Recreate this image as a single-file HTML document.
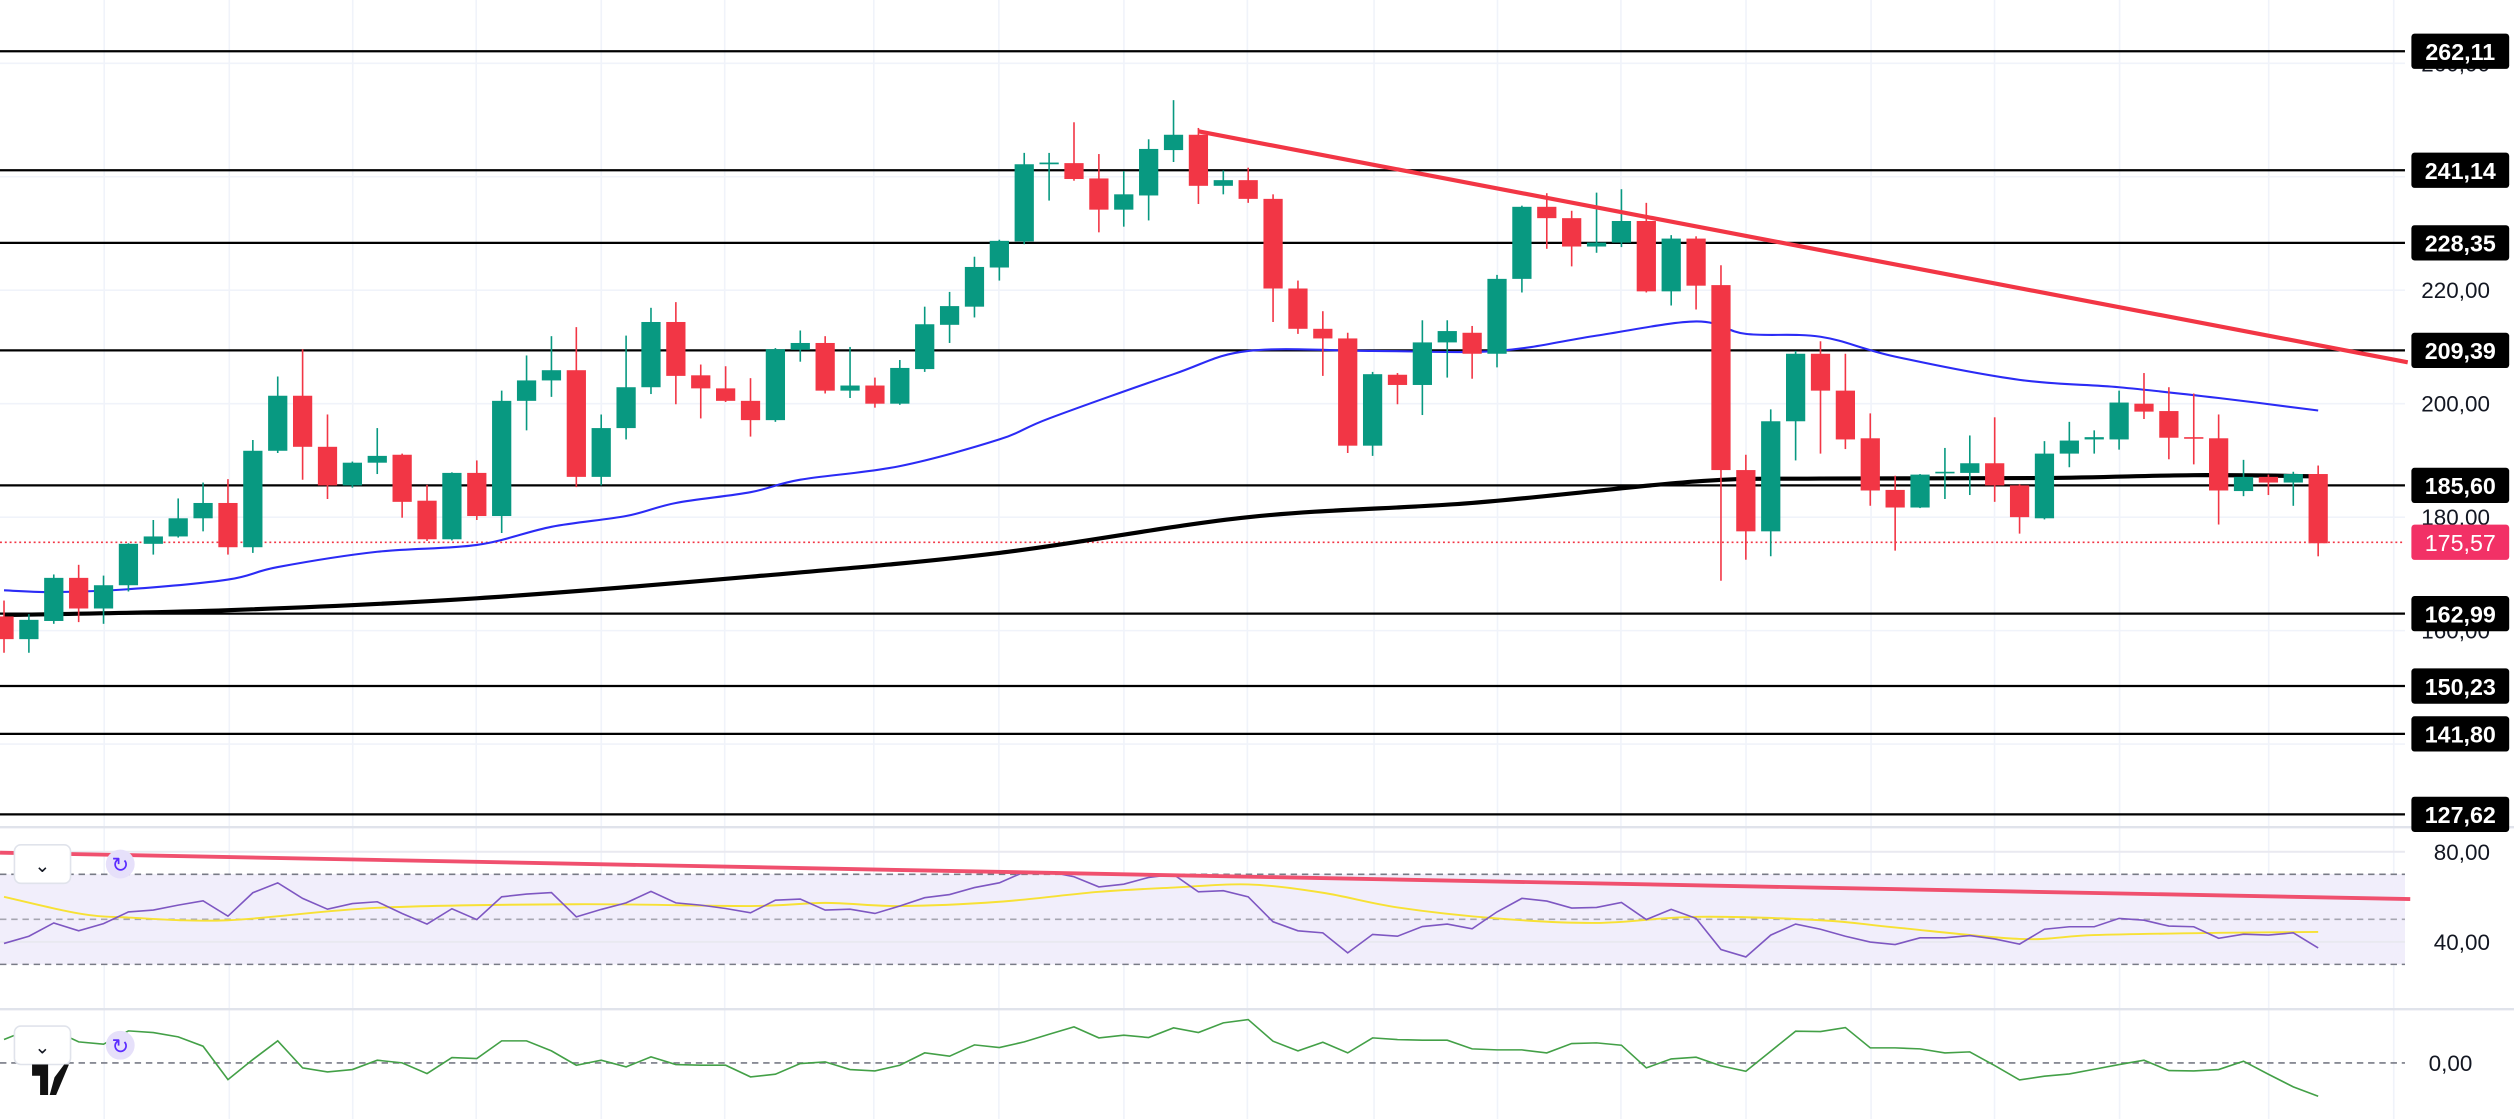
<!DOCTYPE html>
<html><head><meta charset="utf-8">
<style>
html,body{margin:0;padding:0;background:#fff;}
svg{display:block;}
text{font-family:"Liberation Sans",sans-serif;}
</style></head>
<body>
<svg id="chart" width="2514" height="1119" viewBox="0 0 1568 698" preserveAspectRatio="none" xmlns="http://www.w3.org/2000/svg">
<g id="grid"></g>
<g id="levels"></g>
<g id="mas"></g>
<g id="candles"></g>
<g id="trend"></g>
<g id="rsi"></g>
<g id="osc"></g>
<g id="axis"></g>
<g id="ui">
  <rect x="9" y="527" width="35" height="24" rx="4" fill="#fff" stroke="#e0e3eb"/>
  <text x="26.5" y="544" font-size="12" text-anchor="middle" fill="#131722">⌄</text>
  <circle cx="75" cy="539" r="9" fill="#e6e0fa"/>
  <text x="75" y="544" font-size="13" text-anchor="middle" fill="#5b2cff">↻</text>
  <rect x="9" y="640" width="35" height="24" rx="4" fill="#fff" stroke="#e0e3eb"/>
  <text x="26.5" y="657" font-size="12" text-anchor="middle" fill="#131722">⌄</text>
  <circle cx="75" cy="652" r="9" fill="#e6e0fa"/>
  <text x="75" y="657" font-size="13" text-anchor="middle" fill="#5b2cff">↻</text>
  <path d="M20 664 h10 v19 h-5 v-12 h-5z M34 672 l6 -8 h3 l-8 19 h-4z" fill="#111"/>
</g>
</svg>
<script>
// ---------- DATA ----------
const opens  = [162.5,158.5,161.7,169.3,163.9,168.0,175.3,176.6,179.8,182.5,174.7,191.7,201.4,192.4,185.6,189.6,191.0,182.9,176.1,187.8,180.2,200.5,204.1,205.9,187.1,195.7,202.9,214.4,205.0,202.7,200.5,197.1,209.5,210.7,202.3,203.2,200.0,206.1,213.9,217.1,224.0,228.6,242.2,242.4,239.7,234.2,236.7,244.7,247.4,238.4,239.4,236.1,220.3,213.2,211.5,192.6,205.1,203.3,210.8,212.5,208.8,222.0,234.7,232.7,227.7,228.4,232.2,219.8,229.1,220.9,188.3,177.5,196.9,208.8,202.3,193.9,184.8,181.7,187.8,187.8,189.5,185.6,179.8,191.2,193.7,193.7,200.0,198.7,194.1,193.9,184.6,187.1,186.1,187.6];
const highs  = [165.3,162.9,169.9,171.6,169.7,175.4,179.5,183.3,186.1,186.7,193.6,204.8,209.6,198.1,189.8,195.7,191.2,185.7,187.9,190.0,202.3,208.5,211.9,213.5,198.1,212.0,216.9,217.9,206.9,206.6,204.5,209.8,212.9,211.9,210.0,204.6,207.7,217.1,219.7,225.9,228.9,244.2,244.2,249.6,244.0,241.0,246.6,253.5,248.6,241.1,241.6,236.9,221.7,216.3,212.5,205.6,205.4,214.7,214.7,213.7,222.7,234.9,237.1,234.0,237.2,237.8,235.4,229.7,229.5,224.4,191.0,199.0,209.3,211.0,208.8,198.3,187.3,187.6,192.2,194.4,197.6,185.8,193.4,196.8,195.3,202.3,205.4,202.9,201.8,198.1,190.1,187.5,188.0,189.1];
const lows   = [156.1,156.1,161.2,161.5,161.2,166.9,173.4,176.4,177.5,173.4,173.7,191.3,186.6,183.2,185.2,187.6,179.9,175.8,175.9,179.5,177.2,195.3,201.2,185.3,185.6,193.7,201.7,199.9,197.4,200.3,194.2,196.8,207.4,201.8,201.0,199.3,199.8,205.6,210.7,215.2,221.7,228.1,235.8,239.3,230.2,231.2,232.3,242.6,235.2,236.9,235.4,214.4,212.3,204.9,191.3,190.8,199.9,198.0,204.6,204.4,206.4,219.6,227.3,224.2,226.6,227.6,219.6,217.3,216.6,168.8,172.5,173.1,190.0,191.2,192.0,182.0,174.1,181.6,183.2,183.9,182.7,177.1,179.6,188.8,191.2,191.9,197.3,190.2,189.3,178.7,183.7,183.9,182.0,173.1];
const closes = [158.5,161.9,169.3,163.9,168.0,175.3,176.6,179.8,182.5,174.7,191.7,201.4,192.4,185.6,189.6,190.8,182.7,176.1,187.8,180.2,200.5,204.1,205.9,187.1,195.7,202.9,214.4,204.9,202.7,200.5,197.1,209.6,210.7,202.3,203.2,200.0,206.3,214.0,217.2,224.1,228.7,242.2,242.5,239.6,234.2,236.9,244.9,247.4,238.4,239.4,236.1,220.3,213.2,211.5,192.6,205.2,203.3,210.8,212.8,208.8,222.0,234.7,232.7,227.7,228.4,232.2,219.8,229.1,220.8,188.3,177.5,196.9,208.8,202.3,193.7,184.7,181.7,187.5,188.0,189.5,185.6,180.0,191.2,193.5,194.1,200.2,198.6,194.0,193.9,184.7,187.1,186.1,187.6,175.4];

const ma50Idx = [0,2,5,9,11,15,19,22,25,27,30,32,36,40,42,47,50,55,60,64,68,70,73,76,81,85,89,93];
const ma50Val = [167.1,166.8,167.3,169.0,171.2,173.9,175.1,178.3,180.2,182.5,184.4,186.6,189.0,193.7,197.4,205.2,209.3,209.3,209.3,212.0,214.5,212.3,211.8,208.3,204.2,202.9,201.0,198.8];
const ma200Idx = [0,9,19,30,40,50,59,68,73,82,88,93];
const ma200Val = [162.75,163.6,165.7,169.5,173.7,180.0,182.5,186.3,186.8,186.9,187.4,187.2];

const levelValues = [262.11,241.14,228.35,209.39,185.60,162.99,150.23,141.80,127.62];
const levelLabels = ["262,11","241,14","228,35","209,39","185,60","162,99","150,23","141,80","127,62"];
const gridPrices = [260,240,220,200,180,160,140];
const axisPrices = [260,220,200,180,160];
const axisLabels = ["260,00","220,00","200,00","180,00","160,00"];
const lastPrice = 175.57;
const lastLabel = "175,57";
const trendIdx = [48, 96.6];
const trendVal = [248.0, 207.3];

const rsiVal = [39.3,42.5,48.4,44.9,48.1,53.3,54.1,56.3,58.2,51.4,61.8,66.2,59.3,54.5,57.0,57.8,52.6,47.9,54.7,49.9,60.0,61.2,61.9,51.1,54.4,57.3,62.4,57.3,56.3,54.8,52.9,58.5,59.0,54.1,54.5,52.6,55.9,59.6,61.0,64.1,66.2,71.0,71.1,68.9,64.4,65.6,68.6,69.9,62.2,62.7,60.0,48.9,44.9,44.0,35.1,43.3,42.5,46.8,47.9,45.8,53.3,59.3,58.1,55.0,55.3,57.5,49.9,54.4,50.4,36.6,33.3,43.0,47.9,45.6,42.5,39.9,38.8,41.8,41.8,42.8,41.3,39.0,45.6,46.7,46.7,50.4,49.6,47.0,46.7,41.6,43.4,43.0,44.0,37.3];
const rsiMaIdx = [0,3,5,9,15,23,30,33,36,40,44,47,50,53,56,60,64,68,73,76,81,84,89,93];
const rsiMaVal = [60.0,52.6,50.8,49.6,55.1,56.7,55.9,57.3,55.9,57.8,62.2,64.1,65.5,61.8,55.3,50.4,48.4,51.1,49.6,46.4,41.3,43.0,44.0,44.4];
const rsiTrendIdx = [-0.16, 96.7];
const rsiTrendVal = [79.6, 59.0];
const rsiTicks = [80,40];
const rsiTickLabels = ["80,00","40,00"];
const rsiBands = [70,50,30];

const oscVal = [7.0,10.0,9.8,6.3,5.6,9.6,9.1,7.8,5.0,-5.0,1.0,6.6,-1.5,-2.7,-2.0,0.8,0.0,-3.2,1.6,1.3,6.6,6.6,3.6,-0.7,0.8,-1.2,1.8,-0.5,-0.7,-0.7,-4.2,-3.4,-0.2,0.3,-2.0,-2.4,-0.7,3.0,2.0,5.4,4.6,6.3,8.6,10.8,7.5,8.3,7.6,10.5,9.1,12.0,13.0,6.5,3.6,6.2,3.0,7.5,7.0,6.8,6.8,4.2,3.9,3.9,3.0,5.8,6.0,5.3,-1.5,1.2,1.7,-0.9,-2.5,3.5,9.5,9.4,10.6,4.5,4.5,4.2,3.0,3.3,-0.8,-5.1,-4.0,-3.3,-1.9,-0.5,0.8,-2.3,-2.4,-2.0,0.5,-3.4,-7.2,-10.0];
const oscZeroLabel = "0,00";
const vGridX = [65,143,220,297,375,452,545,623,701,778,857,934,1011,1089,1167,1244,1322,1415,1493];

// ---------- SCALES ----------
const PLOT_R = 1500;
const X = i => 2.5 + i * 15.52;
const Y = p => 32 + (262.11 - p) * 3.539;
const RY = v => 587.5 - (v - 40) * 1.405;
const OY = v => 663 - v * 2.08;
const NS = "http://www.w3.org/2000/svg";
function mk(parent, tag, attrs) {
  const e = document.createElementNS(NS, tag);
  for (const k in attrs) e.setAttribute(k, attrs[k]);
  document.getElementById(parent).appendChild(e);
  return e;
}
function smoothPath(pts) {
  let d = "M" + pts[0][0] + " " + pts[0][1];
  for (let i = 0; i < pts.length - 1; i++) {
    const p0 = pts[i - 1] || pts[i], p1 = pts[i], p2 = pts[i + 1], p3 = pts[i + 2] || p2;
    const c1x = p1[0] + (p2[0] - p0[0]) / 6, c1y = p1[1] + (p2[1] - p0[1]) / 6;
    const c2x = p2[0] - (p3[0] - p1[0]) / 6, c2y = p2[1] - (p3[1] - p1[1]) / 6;
    d += " C" + c1x + " " + c1y + " " + c2x + " " + c2y + " " + p2[0] + " " + p2[1];
  }
  return d;
}

// grid
gridPrices.forEach(p => {
  const l = mk("grid", "line", {x1: 0, x2: PLOT_R, y1: Y(p), y2: Y(p), stroke: "#f0f3fa", "stroke-width": 1});
  
  
});
vGridX.forEach(x => {
  const l = mk("grid", "line", {x1: x, x2: x, y1: 0, y2: 698, stroke: "#f0f3fa", "stroke-width": 1});
  
  
});
[516, 629.5].forEach(y => {
  const l = mk("grid", "line", {x1: 0, x2: 1568, y1: y, y2: y, stroke: "#e0e3eb", "stroke-width": 1.5});
  
  
});

// levels
levelValues.forEach(v => {
  const l = mk("levels", "line", {x1: 0, x2: PLOT_R, y1: Y(v), y2: Y(v), stroke: "#000", "stroke-width": 1.4});
  
  
});
const lp = mk("levels", "line", {x1: 0, x2: PLOT_R, y1: Y(lastPrice), y2: Y(lastPrice), stroke: "#f23645", "stroke-width": 1, "stroke-dasharray": "1.2 1.8"});



// MAs
const m50 = mk("mas", "path", {d: smoothPath(ma50Idx.map((i, k) => [X(i), Y(ma50Val[k])])), fill: "none", stroke: "#2b2bf5", "stroke-width": 1.3});


const m200 = mk("mas", "path", {d: smoothPath(ma200Idx.map((i, k) => [X(i), Y(ma200Val[k])])), fill: "none", stroke: "#000", "stroke-width": 2.6});



// candles
closes.forEach((c, i) => {
  const o = opens[i], up = c >= o, col = up ? "#089981" : "#f23645", x = X(i);
  const w = mk("candles", "line", {x1: x, x2: x, y1: Y(highs[i]), y2: Y(lows[i]), stroke: col, "stroke-width": 1});
  
  
  const top = Y(Math.max(o, c)), h = Math.max(1, Math.abs(Y(o) - Y(c)));
  const b = mk("candles", "rect", {x: x - 6, y: top, width: 12, height: h, fill: col});
  
  
});

// trendline
const tl = mk("trend", "line", {x1: X(trendIdx[0]), y1: Y(trendVal[0]), x2: X(trendIdx[1]), y2: Y(trendVal[1]), stroke: "#f23645", "stroke-width": 2.6});



// RSI pane
const band = mk("rsi", "rect", {x: 0, y: RY(70), width: PLOT_R, height: RY(30) - RY(70), fill: "#f1eefb"});


rsiTicks.forEach(v => {
  const l = mk("rsi", "line", {x1: 0, x2: PLOT_R, y1: RY(v), y2: RY(v), stroke: "#e9e9f0", "stroke-width": 1.2});
  
  
});
rsiBands.forEach(v => {
  const l = mk("rsi", "line", {x1: 0, x2: PLOT_R, y1: RY(v), y2: RY(v), stroke: v === 50 ? "#a6a6b0" : "#787b86", "stroke-width": 1, "stroke-dasharray": "4 3"});
  
  
});
const rma = mk("rsi", "path", {d: smoothPath(rsiMaIdx.map((i, k) => [X(i), RY(rsiMaVal[k])])), fill: "none", stroke: "#f7e135", "stroke-width": 1.2});


const rl = mk("rsi", "polyline", {points: rsiVal.map((v, i) => X(i) + "," + RY(v)).join(" "), fill: "none", stroke: "#7e57c2", "stroke-width": 1});


const rt = mk("rsi", "line", {x1: X(rsiTrendIdx[0]), y1: RY(rsiTrendVal[0]), x2: X(rsiTrendIdx[1]), y2: RY(rsiTrendVal[1]), stroke: "#f0506e", "stroke-width": 2.4});



// oscillator pane
const oz = mk("osc", "line", {x1: 0, x2: PLOT_R, y1: OY(0), y2: OY(0), stroke: "#787b86", "stroke-width": 1, "stroke-dasharray": "4 3"});


const ol = mk("osc", "polyline", {points: oscVal.map((v, i) => X(i) + "," + OY(v)).join(" "), fill: "none", stroke: "#43a047", "stroke-width": 1});



// axis labels
axisPrices.forEach((p, k) => {
  const t = mk("axis", "text", {x: 1553, y: Y(p) + 5, "font-size": 14, "text-anchor": "end", fill: "#131722"});
  t.textContent = axisLabels[k];
  
  
});
levelValues.forEach((v, k) => {
  const r = mk("axis", "rect", {x: 1504, y: Y(v) - 11, width: 61, height: 22, rx: 2, fill: "#000"});
  
  
  const t = mk("axis", "text", {x: 1534.5, y: Y(v) + 5.5, "font-size": 14.5, "font-weight": "bold", "text-anchor": "middle", fill: "#fff"});
  t.textContent = levelLabels[k];
  
  
});
const lr = mk("axis", "rect", {x: 1504, y: Y(lastPrice) - 11, width: 61, height: 22, rx: 2, fill: "#f23166"});


const lt = mk("axis", "text", {x: 1534.5, y: Y(lastPrice) + 5.5, "font-size": 14.5, "text-anchor": "middle", fill: "#fff"});
lt.textContent = lastLabel;


rsiTicks.forEach((v, k) => {
  const t = mk("axis", "text", {x: 1553, y: RY(v) + 5, "font-size": 14, "text-anchor": "end", fill: "#131722"});
  t.textContent = rsiTickLabels[k];
  
  
});
const oz2 = mk("axis", "text", {x: 1542, y: OY(0) + 5, "font-size": 14, "text-anchor": "end", fill: "#131722"});
oz2.textContent = oscZeroLabel;


</script>
</body></html>
